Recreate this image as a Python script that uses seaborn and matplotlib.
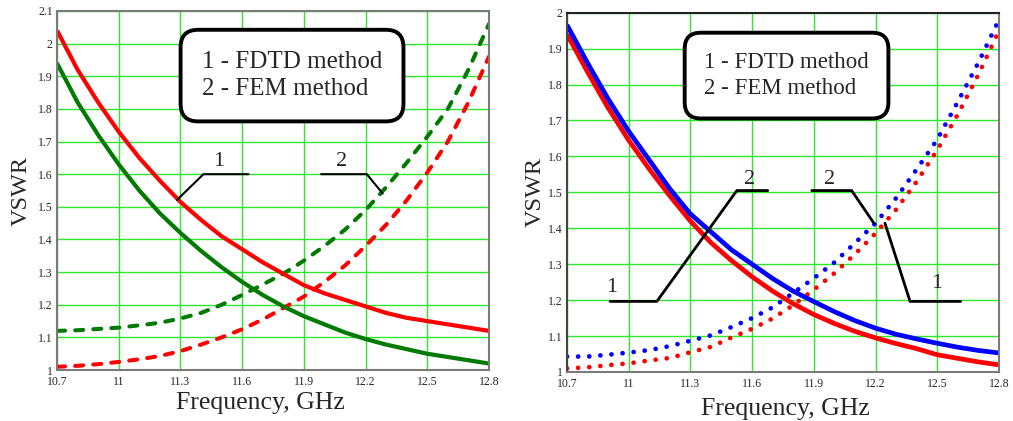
import numpy as np
import pandas as pd
import matplotlib
matplotlib.use('Agg')
import matplotlib.pyplot as plt
import seaborn as sns

# frequency grid, GHz
freq = [10.7, 10.8, 10.9, 11.0, 11.1, 11.2, 11.3, 11.4, 11.5, 11.6, 11.7,
        11.8, 11.9, 12.0, 12.1, 12.2, 12.3, 12.4, 12.5, 12.6, 12.7, 12.8]

# left panel
left_red_solid = [2.04, 1.92, 1.82, 1.73, 1.65, 1.58, 1.515, 1.46, 1.41, 1.37, 1.33,
                  1.295, 1.26, 1.235, 1.215, 1.195, 1.175, 1.16, 1.15, 1.14, 1.13, 1.12]
left_green_solid = [1.94, 1.82, 1.72, 1.63, 1.55, 1.48, 1.42, 1.365, 1.315, 1.27, 1.23,
                    1.195, 1.165, 1.14, 1.115, 1.095, 1.078, 1.064, 1.05, 1.04, 1.03, 1.02]
left_green_dash = [1.12, 1.122, 1.126, 1.13, 1.137, 1.145, 1.158, 1.175, 1.20, 1.23, 1.262,
                   1.295, 1.335, 1.38, 1.43, 1.49, 1.56, 1.635, 1.715, 1.80, 1.92, 2.06]
left_red_dash = [1.01, 1.013, 1.018, 1.025, 1.033, 1.043, 1.058, 1.078, 1.10, 1.125, 1.155,
                 1.19, 1.225, 1.27, 1.32, 1.38, 1.445, 1.52, 1.605, 1.70, 1.82, 1.96]

# right panel
right_blue_solid = [1.966, 1.86, 1.76, 1.67, 1.59, 1.51, 1.44, 1.39, 1.34, 1.30, 1.26,
                    1.225, 1.196, 1.168, 1.143, 1.122, 1.105, 1.092, 1.08, 1.069, 1.06, 1.053]
right_red_solid = [1.94, 1.835, 1.735, 1.645, 1.565, 1.49, 1.42, 1.36, 1.31, 1.265, 1.225,
                   1.19, 1.16, 1.135, 1.113, 1.095, 1.079, 1.065, 1.048, 1.038, 1.028, 1.02]
right_blue_dot = [1.043, 1.043, 1.048, 1.054, 1.061, 1.072, 1.087, 1.102, 1.125, 1.150, 1.18,
                  1.22, 1.261, 1.305, 1.359, 1.414, 1.484, 1.564, 1.647, 1.752, 1.861, 1.98]
right_red_dot = [1.010, 1.013, 1.019, 1.024, 1.032, 1.039, 1.055, 1.07, 1.096, 1.12, 1.149,
                 1.186, 1.229, 1.275, 1.328, 1.386, 1.452, 1.53, 1.618, 1.717, 1.828, 1.95]

xticks = [10.7, 11, 11.3, 11.6, 11.9, 12.2, 12.5, 12.8]
xtick_labels = ['10.7', '11', '11.3', '11.6', '11.9', '12.2', '12.5', '12.8']
legend_text = '1 - FDTD method\n2 - FEM method'

sns.set_style('white')
plt.rcParams['font.family'] = ['Liberation Serif', 'DejaVu Serif']

GRID = '#2ee82e'
RED = '#ff0000'
GREEN = '#007a00'
BLUE = '#0000ff'

fig = plt.figure(figsize=(10.13, 4.21), dpi=100)
ax1 = fig.add_axes([0.0563, 0.121, 0.4264, 0.853])
ax2 = fig.add_axes([0.5597, 0.1164, 0.4264, 0.8534])

df = pd.DataFrame({'f': freq})

def draw(ax, y, color, lw, style):
    kw = dict(color=color, lw=lw, ax=ax, errorbar=None, sort=True)
    if style == 'dash':
        kw.update(linestyle=(0, (2.0, 2.5)), dash_capstyle='round')
    elif style == 'dot':
        kw.update(linestyle=(0, (0.01, 2.35)), dash_capstyle='round')
    else:
        kw.update(solid_capstyle='butt')
    sns.lineplot(x=df['f'], y=y, **kw)

draw(ax1, left_green_dash, GREEN, 2.9, 'dash')
draw(ax1, left_red_dash, RED, 2.9, 'dash')
draw(ax1, left_green_solid, GREEN, 3.0, 'solid')
draw(ax1, left_red_solid, RED, 3.0, 'solid')

draw(ax2, right_blue_dot, BLUE, 3.4, 'dot')
draw(ax2, right_red_dot, RED, 3.4, 'dot')
draw(ax2, right_red_solid, RED, 3.4, 'solid')
draw(ax2, right_blue_solid, BLUE, 3.4, 'solid')

for ax, ymax in [(ax1, 2.1), (ax2, 2.0)]:
    ax.set_xlim(10.7, 12.8)
    ax.set_ylim(1.0, ymax)
    ax.set_xticks(xticks)
    ax.set_xticklabels(xtick_labels)
    yt = np.round(np.arange(1.0, ymax + 0.001, 0.1), 1)
    ax.set_yticks(yt)
    ax.set_yticklabels(['%g' % v for v in yt])
    ax.grid(True, color=GRID, lw=1.0)
    ax.set_axisbelow(True)
    ax.tick_params(length=0, labelsize=8.5)
    ax.tick_params(axis='y', pad=3)
    ax.tick_params(axis='x', pad=4.5)
    for s in ax.spines.values():
        s.set_color('#7a7a7a')
        s.set_linewidth(1.5)
    ax.set_xlabel('Frequency, GHz', fontsize=18.5)
    ax.set_ylabel('VSWR', fontsize=17.5)

ax1.yaxis.set_label_coords(-0.058, 0.5)
ax1.xaxis.set_label_coords(0.47, -0.062)
ax2.yaxis.set_label_coords(-0.05, 0.5)
ax2.xaxis.set_label_coords(0.505, -0.072)
ax2.spines['top'].set_color('#222222')
ax2.spines['left'].set_color('#444444')

box = dict(boxstyle='round,pad=0.85,rounding_size=0.7', fc='white', ec='black', lw=2.8)

# left panel legend box and leader lines
ax1.text(11.404, 1.902, legend_text, fontsize=18, ha='left', va='center',
         linespacing=1.3, bbox=box, zorder=5)
ax1.plot([11.283, 11.412, 11.631], [1.521, 1.60, 1.60], color='black', lw=1.5)
ax1.plot([11.984, 12.206, 12.283], [1.60, 1.60, 1.541], color='black', lw=1.5)
ax1.text(11.485, 1.638, '1', fontsize=16, ha='center', va='center')
ax1.text(12.084, 1.638, '2', fontsize=16, ha='center', va='center')

# right panel legend box and leader lines
ax2.text(11.367, 1.825, legend_text, fontsize=16.5, ha='left', va='center',
         linespacing=1.3, bbox=box, zorder=5)
ax2.plot([10.91, 11.137, 11.526, 11.676], [1.1965, 1.1965, 1.505, 1.505], color='black', lw=2)
ax2.plot([11.89, 12.084, 12.19], [1.505, 1.505, 1.416], color='black', lw=2)
ax2.plot([12.246, 12.368, 12.614], [1.414, 1.1965, 1.1965], color='black', lw=2)
ax2.text(10.918, 1.234, '1', fontsize=16, ha='center', va='center')
ax2.text(11.59, 1.535, '2', fontsize=16, ha='center', va='center')
ax2.text(11.979, 1.535, '2', fontsize=16, ha='center', va='center')
ax2.text(12.497, 1.247, '1', fontsize=16, ha='center', va='center')

fig.savefig('out.png', dpi=100)
